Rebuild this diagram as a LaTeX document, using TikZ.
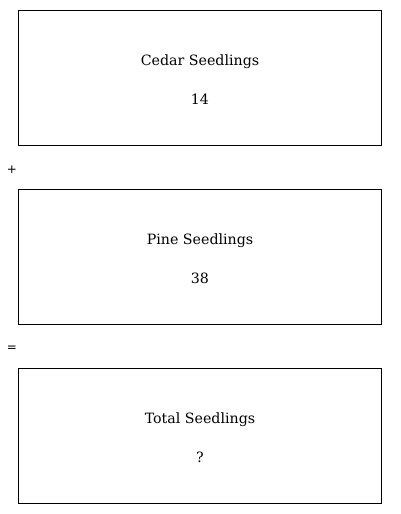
\documentclass[tikz,border=0pt]{standalone}
\usepackage{fontspec}
\newfontfamily\symfont{DejaVu Sans}
\newfontfamily\cardfont{DejaVu Serif}
\begin{document}
\begin{tikzpicture}[x=1pt,y=-1pt,
  card/.style={draw=black,line width=1pt,minimum width=363pt,minimum height=135pt,anchor=north west,inner sep=0pt},
  lbl/.style={font=\cardfont\fontsize{14.2}{17}\selectfont,anchor=center},
  opsign/.style={font=\symfont\fontsize{12}{14}\selectfont,anchor=center}]
\useasboundingbox (0,0) rectangle (400,514);
\node[card] (b1) at (18,10) {};
\node[card] (b2) at (18,189) {};
\node[card] (b3) at (18,368) {};
\node[lbl] (t1) at (200,61.5) {Cedar Seedlings};
\node[lbl] (v1) at (200,99) {14};
\node[lbl] (t2) at (200,240.5) {Pine Seedlings};
\node[lbl] (v2) at (200,278) {38};
\node[lbl] (t3) at (200,419.5) {Total Seedlings};
\node[lbl] (v3) at (200,457) {?};
\node[opsign] (plus) at (12,170) {+};
\node[opsign] (eq) at (12,349) {=};
\end{tikzpicture}
\end{document}
